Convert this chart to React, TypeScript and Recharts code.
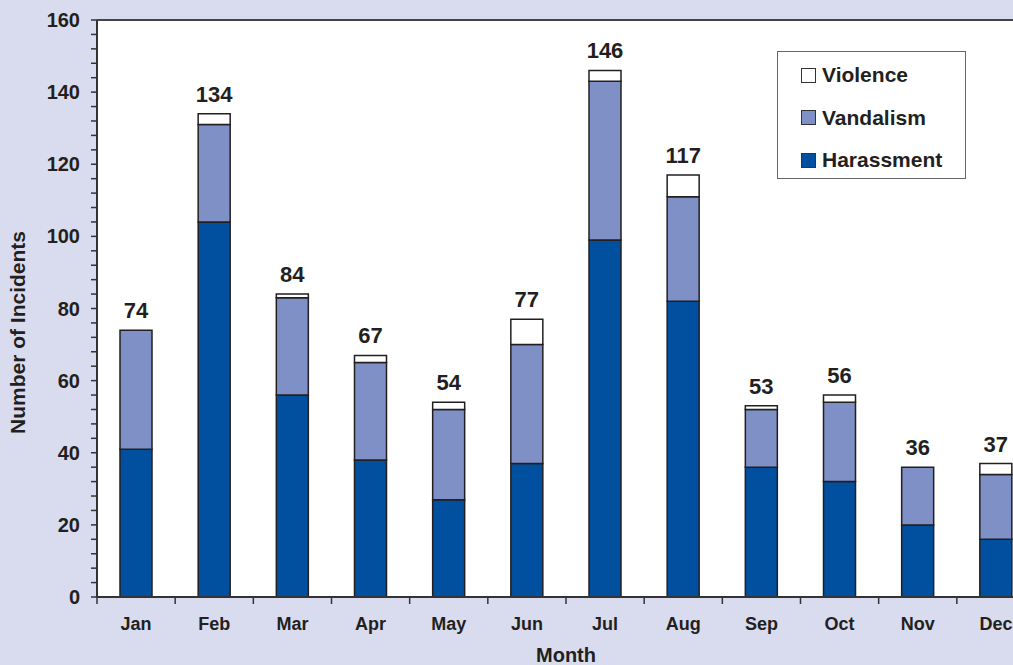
import React from 'react';
import {
  BarChart,
  Bar,
  XAxis,
  YAxis,
  CartesianGrid,
  Legend,
  LabelList,
  ReferenceLine,
} from 'recharts';

const months = ['Jan', 'Feb', 'Mar', 'Apr', 'May', 'Jun', 'Jul', 'Aug', 'Sep', 'Oct', 'Nov', 'Dec'];
const harassment = [41, 104, 56, 38, 27, 37, 99, 82, 36, 32, 20, 16];
const vandalism = [33, 27, 27, 27, 25, 33, 44, 29, 16, 22, 16, 18];
const violence = [0, 3, 1, 2, 2, 7, 3, 6, 1, 2, 0, 3];
const totals = [74, 134, 84, 67, 54, 77, 146, 117, 53, 56, 36, 37];

const yTicks = [
  0, 4, 8, 12, 16, 20, 24, 28, 32, 36, 40, 44, 48, 52, 56, 60, 64, 68, 72, 76, 80,
  84, 88, 92, 96, 100, 104, 108, 112, 116, 120, 124, 128, 132, 136, 140, 144, 148,
  152, 156, 160,
];

const data = months.map((m, i) => ({
  month: m,
  harassment: harassment[i],
  vandalism: vandalism[i],
  violence: violence[i],
  total: totals[i],
}));

const BG = '#d9dcee';
const INK = '#231f20';
const FONT = '"Liberation Sans", Arial, sans-serif';
const CHART_W = 1040;
const CHART_H = 665;

const legendItems = [
  { name: 'Violence', color: '#ffffff' },
  { name: 'Vandalism', color: '#7f90c6' },
  { name: 'Harassment', color: '#00509f' },
];

const YTick = (props: any) => {
  const { x, y, payload } = props;
  if (payload.value % 20 !== 0) return null;
  return (
    <text x={x} y={y} dy={7} textAnchor="end" fontFamily={FONT} fontWeight="bold" fontSize={20} fill={INK}>
      {payload.value}
    </text>
  );
};

// month label plus a tick mark on the category boundary
const XTick = (props: any) => {
  const { x, y, payload, width, visibleTicksCount, index } = props;
  const half = width / visibleTicksCount / 2;
  const y0 = y - 18;
  return (
    <g>
      <line x1={x - half} x2={x - half} y1={y0} y2={y0 + 7} stroke="#333" strokeWidth={1.5} />
      {index === visibleTicksCount - 1 && (
        <line x1={x + half} x2={x + half} y1={y0} y2={y0 + 7} stroke="#333" strokeWidth={1.5} />
      )}
      <text x={x} y={y} dy={15} textAnchor="middle" fontFamily={FONT} fontWeight="bold" fontSize={18} fill={INK}>
        {payload.value}
      </text>
    </g>
  );
};

const LegendBox = () => (
  <div
    style={{
      width: 187,
      height: 124,
      background: '#fff',
      border: '1px solid #666',
      boxSizing: 'content-box',
      paddingTop: 2,
    }}
  >
    {legendItems.map((it) => (
      <div key={it.name} style={{ display: 'flex', alignItems: 'center', height: 42.5, paddingLeft: 23 }}>
        <span
          style={{
            display: 'inline-block',
            width: 13,
            height: 13,
            background: it.color,
            border: '1px solid #333',
            marginRight: 6,
          }}
        />
        <span style={{ fontFamily: FONT, fontWeight: 'bold', fontSize: 21, color: INK }}>{it.name}</span>
      </div>
    ))}
  </div>
);

// total above the stack, placed from the harassment segment's own scale
const TotalLabel = (props: any) => {
  const { x, y, width, height, index } = props;
  const perUnit = height / harassment[index];
  const top = y + height - totals[index] * perUnit;
  return (
    <text x={x + width / 2} y={top - 12} textAnchor="middle" fontFamily={FONT} fontWeight="bold" fontSize={22} fill={INK}>
      {totals[index]}
    </text>
  );
};

export default function App() {
  return (
    <div
      style={{
        position: 'fixed',
        left: 0,
        top: 0,
        width: 1013,
        height: 665,
        overflow: 'hidden',
        background: BG,
      }}
    >
      <BarChart
        width={CHART_W}
        height={CHART_H}
        data={data}
        margin={{ top: 20, right: 5, left: 0, bottom: 0 }}
        barSize={32}
      >
        <CartesianGrid horizontal={false} vertical={false} fill="#ffffff" />
        <XAxis
          dataKey="month"
          interval={0}
          height={68}
          tickSize={6}
          tickMargin={12}
          tickLine={false}
          axisLine={{ stroke: '#333', strokeWidth: 2 }}
          tick={<XTick />}
          label={{
            value: 'Month',
            position: 'insideBottom',
            offset: 3,
            fontFamily: FONT,
            fontWeight: 'bold',
            fontSize: 20,
            fill: INK,
          }}
        />
        <YAxis
          width={97}
          domain={[0, 160]}
          ticks={yTicks}
          interval={0}
          tickSize={6}
          tickMargin={11}
          axisLine={{ stroke: '#333', strokeWidth: 2 }}
          tickLine={{ stroke: '#333', strokeWidth: 1.5 }}
          tick={<YTick />}
          label={{
            value: 'Number of Incidents',
            content: () => (
              <text
                x={17}
                y={CHART_H / 2}
                transform={`rotate(-90 17 ${CHART_H / 2})`}
                textAnchor="middle"
                dominantBaseline="central"
                fontFamily={FONT}
                fontWeight="bold"
                fontSize={21}
                fill={INK}
              >
                Number of Incidents
              </text>
            ),
          }}
        />
        <ReferenceLine y={160} stroke="#444" strokeWidth={2} ifOverflow="visible" />
        <Legend
          layout="horizontal"
          verticalAlign="middle"
          align="center"
          content={<LegendBox />}
          wrapperStyle={{ left: 777, top: 51, width: 'auto', height: 'auto' }}
        />
        <Bar dataKey="harassment" name="Harassment" stackId="a" fill="#00509f" stroke={INK} strokeWidth={1.5} isAnimationActive={false}>
          <LabelList dataKey="total" content={<TotalLabel />} />
        </Bar>
        <Bar dataKey="vandalism" name="Vandalism" stackId="a" fill="#7f90c6" stroke={INK} strokeWidth={1.5} isAnimationActive={false} />
        <Bar dataKey="violence" name="Violence" stackId="a" fill="#ffffff" stroke={INK} strokeWidth={1.5} isAnimationActive={false} />
      </BarChart>
    </div>
  );
}
